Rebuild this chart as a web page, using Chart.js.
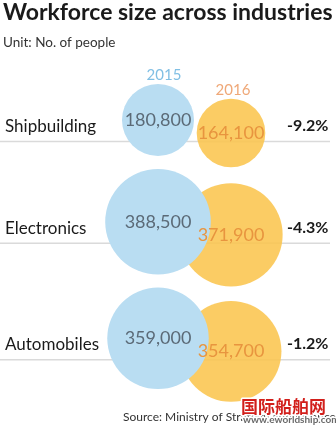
<!DOCTYPE html>
<html>
<head>
<meta charset="utf-8">
<script src="https://cdn.jsdelivr.net/npm/chart.js@4/dist/chart.umd.min.js"></script>
<style>
  body { margin: 0; background: #fff; }
  #wrap { position: relative; width: 336px; height: 426px; }
</style>
</head>
<body>
<div id="wrap"><canvas id="workforceChart"></canvas></div>
<script>
// workforce by industry, 2015 vs 2016
const industries = ['Shipbuilding', 'Electronics', 'Automobiles'];
const years = [2015, 2016];
const workers2015 = [180800, 388500, 359000];
const workers2016 = [164100, 371900, 354700];

const W = 336, H = 426;
const FONT = 'Lato, "Open Sans", sans-serif';
const rPerSqrt = 0.0847;          // bubble radius in px per sqrt(people)
const pxPerYear = 73;             // horizontal gap between the two years
const year0X = 158;               // where 2015 sits on the canvas
const yearDy = [-7, 6];           // 2015 sits a bit higher, 2016 a bit lower
const firstRowY = 127, rowGap = 13;

const radius = v => Math.sqrt(v) * rPerSqrt;

// stack the rows so the biggest bubbles of neighbouring rows don't touch
let rowY = [];
industries.forEach((name, i) => {
	let rMax = Math.max(radius(workers2015[i]), radius(workers2016[i]));
	if (i == 0) {
		rowY.push(firstRowY);
	} else {
		let prev = Math.max(radius(workers2015[i-1]), radius(workers2016[i-1]));
		rowY.push(rowY[i-1] + prev + rMax + rowGap);
	}
});

function bubbles(values, yi){
	return values.map((v, i) => ({x: years[yi], y: rowY[i] + yearDy[yi], r: radius(v), v: v}));
}

const styles = {
	fill: ['#b9ddf2', 'rgba(251,197,78,0.88)'],
	text: ['#5b6a77', '#e8953f'],
	year: ['#80bfe4', '#efa878'],
	yearNudge: [6, 2]
};

// lines, labels and numbers drawn straight onto the canvas
const decorations = {
	id: 'decorations',
	beforeDatasetsDraw(chart){
		let ctx = chart.ctx;
		ctx.save();
		ctx.strokeStyle = '#dadada';
		ctx.lineWidth = 1.5;
		rowY.forEach(y => {
			ctx.beginPath();
			ctx.moveTo(0, y + 14.5);
			ctx.lineTo(330, y + 14.5);
			ctx.stroke();
		});
		ctx.restore();
	},
	afterDatasetsDraw(chart){
		let ctx = chart.ctx;
		ctx.save();

		// header
		ctx.fillStyle = '#1a1a1a';
		ctx.textAlign = 'left';
		ctx.textBaseline = 'alphabetic';
		ctx.font = 'bold 23px ' + FONT;
		ctx.fillText('Workforce size across industries', 3, 20);
		ctx.fillStyle = '#333';
		ctx.font = '13.5px ' + FONT;
		ctx.fillText('Unit: No. of people', 3, 47);

		// industry names and change
		rowY.forEach((y, i) => {
			ctx.fillStyle = '#1a1a1a';
			ctx.font = '17px ' + FONT;
			ctx.textAlign = 'left';
			ctx.fillText(industries[i], 5, y + 5);
			let pct = (workers2016[i] - workers2015[i]) / workers2015[i] * 100;
			ctx.font = 'bold 16px ' + FONT;
			ctx.fillText(pct.toFixed(1) + '%', 287, y + 4);
		});

		// numbers inside the bubbles, year names over the top row
		[0, 1].forEach(d => {
			let meta = chart.getDatasetMeta(d);
			meta.data.forEach((el, i) => {
				let p = chart.data.datasets[d].data[i];
				ctx.fillStyle = styles.text[d];
				ctx.font = '18px ' + FONT;
				ctx.textAlign = 'center';
				ctx.textBaseline = 'middle';
				ctx.fillText(p.v.toLocaleString('en-US'), el.x, el.y);
				if (i == 0) {
					ctx.fillStyle = styles.year[d];
					ctx.font = '15px ' + FONT;
					ctx.fillText(String(years[d]), el.x + styles.yearNudge[d], el.y - p.r - 9);
				}
			});
		});

		// footer
		ctx.textAlign = 'left';
		ctx.textBaseline = 'alphabetic';
		ctx.fillStyle = '#333';
		ctx.font = '12px ' + FONT;
		ctx.fillText('Source: Ministry of Strategy and Finance', 123, 421);

		// site stamp over the corner
		ctx.lineJoin = 'round';
		ctx.strokeStyle = '#fff';
		ctx.lineWidth = 3;
		ctx.font = 'bold 17px "Noto Sans CJK SC"';
		ctx.strokeText('国际船舶网', 241, 413);
		ctx.fillStyle = '#d21f1b';
		ctx.fillText('国际船舶网', 241, 413);
		ctx.font = 'bold 10px ' + FONT;
		ctx.strokeText('www.eworldship.com', 243, 423);
		ctx.fillStyle = '#6a6a6a';
		ctx.fillText('www.eworldship.com', 243, 423);

		ctx.restore();
	}
};

let ctx = document.getElementById('workforceChart').getContext('2d');
let chart = new Chart(ctx, {
	type: 'bubble',
	data: {
		datasets: years.map((yr, d) => ({
			label: String(yr),
			data: bubbles(d == 0 ? workers2015 : workers2016, d),
			backgroundColor: styles.fill[d],
			borderWidth: 0
		}))
	},
	options: {
		responsive: true,
		maintainAspectRatio: false,
		animation: false,
		events: [],
		layout: { padding: 0, autoPadding: false },
		plugins: { legend: { display: false }, tooltip: { enabled: false } },
		scales: {
			x: { type: 'linear', display: false,
				min: 2015 - year0X / pxPerYear, max: 2015 + (W - year0X) / pxPerYear },
			y: { type: 'linear', display: false, reverse: true, min: 0, max: H }
		}
	},
	plugins: [decorations]
});
</script>
</body>
</html>
